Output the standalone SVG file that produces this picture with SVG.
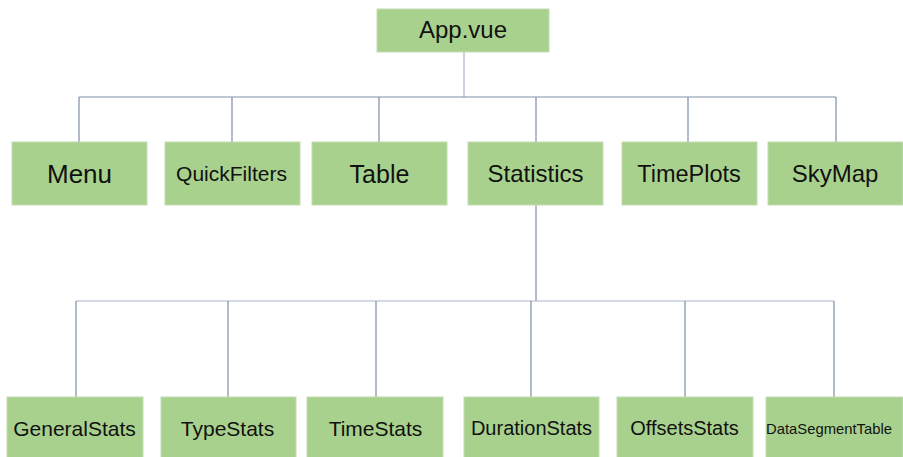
<svg xmlns="http://www.w3.org/2000/svg" width="903" height="457" viewBox="0 0 903 457">
<style>
.box{fill:#a9d18e;stroke:#c3dcb2;stroke-width:1}
.t{font-family:"Liberation Sans",Arial,sans-serif;fill:#111;text-anchor:middle}
.c{fill:none;stroke:#7e8ea6;stroke-width:1.2}
.cl{fill:none;stroke:#a9b6c8;stroke-width:1.2}
</style>
<rect width="903" height="457" fill="#fff"/>
<g id="connectors">
<path class="cl" d="M464 52V97"/>
<path class="c" d="M79 97H836"/>
<path class="c" d="M79 97V142M232 97V142M379 97V142M536 97V142M688 97V142M836 97V142"/>
<path class="c" d="M536 205V301"/>
<path class="cl" d="M76 301H834"/>
<path class="c" d="M76 301V397M228 301V397M376 301V397M531 301V397M685 301V397M834 301V397"/>
</g>
<g id="app"><rect class="box" x="377" y="9" width="172" height="43"/><text class="t" x="463" y="38" font-size="24">App.vue</text></g>
<g id="menu"><rect class="box" x="12" y="142" width="135" height="63"/><text class="t" x="79.5" y="183" font-size="26">Menu</text></g>
<g id="quickfilters"><rect class="box" x="165" y="142" width="135" height="63"/><text class="t" x="231.5" y="181" font-size="21">QuickFilters</text></g>
<g id="table"><rect class="box" x="312" y="142" width="135" height="63"/><text class="t" x="379.5" y="183" font-size="25">Table</text></g>
<g id="statistics"><rect class="box" x="468" y="142" width="135" height="63"/><text class="t" x="535.5" y="182" font-size="24">Statistics</text></g>
<g id="timeplots"><rect class="box" x="622" y="142" width="135" height="63"/><text class="t" x="689" y="182" font-size="23.5">TimePlots</text></g>
<g id="skymap"><rect class="box" x="768" y="142" width="135" height="63"/><text class="t" x="835" y="182" font-size="24">SkyMap</text></g>
<g id="generalstats"><rect class="box" x="7" y="397" width="136" height="63"/><text class="t" x="74.5" y="436" font-size="21">GeneralStats</text></g>
<g id="typestats"><rect class="box" x="161" y="397" width="135" height="63"/><text class="t" x="227.5" y="436" font-size="21">TypeStats</text></g>
<g id="timestats"><rect class="box" x="307" y="397" width="136" height="63"/><text class="t" x="375.5" y="436" font-size="21">TimeStats</text></g>
<g id="durationstats"><rect class="box" x="464" y="397" width="135" height="63"/><text class="t" x="531.5" y="435" font-size="20">DurationStats</text></g>
<g id="offsetsstats"><rect class="box" x="617" y="397" width="136" height="63"/><text class="t" x="684.5" y="435" font-size="20">OffsetsStats</text></g>
<g id="datasegmenttable"><rect class="box" x="766" y="397" width="137" height="63"/><text class="t" x="829" y="434" font-size="14.8">DataSegmentTable</text></g>
</svg>
